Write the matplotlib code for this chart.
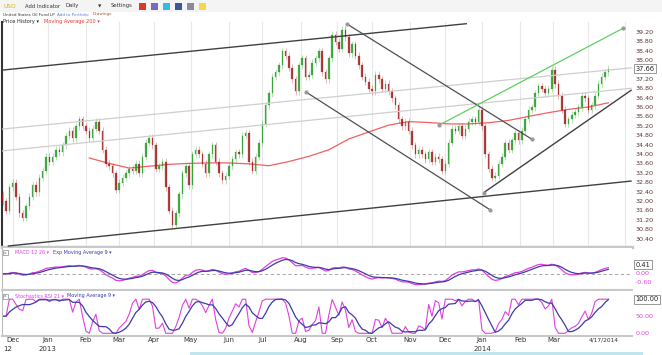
import matplotlib
matplotlib.use("Agg")
import matplotlib.pyplot as plt
import numpy as np
import pandas as pd
from matplotlib.patches import Rectangle
from matplotlib.transforms import blended_transform_factory

# USO closes, one value every second business day, 2012-11-21 .. 2014-04-17
closes = [
    32.3, 32.0, 31.6, 32.6, 32.8, 32.2, 31.5, 31.3, 31.8, 32.2,
    32.7, 32.4, 33.0, 33.3, 33.9, 33.7, 33.9, 34.2, 34.1, 34.4,
    34.8, 35.0, 34.7, 35.2, 35.5, 35.2, 35.0, 34.7, 35.1, 35.4,
    35.0, 34.2, 33.6, 33.5, 33.2, 32.5, 32.8, 33.0, 33.2, 33.4,
    33.3, 33.6, 33.2, 33.9, 34.5, 34.7, 34.4, 33.4, 33.5, 33.7,
    32.6, 31.6, 31.0, 31.5, 32.3, 33.2, 33.5, 32.7, 34.0, 34.2,
    34.0, 33.6, 33.2, 34.0, 34.4, 33.7, 33.2, 32.9, 33.1, 33.5,
    33.8, 34.1, 34.0, 34.8, 34.9, 33.7, 33.3, 33.9, 34.5, 35.3,
    36.1, 36.6, 37.3, 37.5, 37.8, 38.4, 38.2, 37.7, 37.2, 36.7,
    37.8, 38.1, 37.3, 37.4, 37.9, 38.1, 38.4, 37.5, 37.2, 38.1,
    39.1, 38.8, 38.5, 39.3, 39.0, 38.3, 38.7, 38.2, 37.8, 37.3,
    37.1, 36.8, 36.7, 37.4, 37.2, 36.8, 37.0, 36.7, 36.4, 36.1,
    35.5, 35.2, 35.4, 35.0, 34.4, 34.0, 34.2, 34.0, 33.8, 34.1,
    33.7, 33.9, 33.8, 33.3, 33.6, 34.5, 35.1, 35.0, 35.2, 34.8,
    35.1, 35.4, 35.5, 35.4, 35.9, 35.2, 34.0, 33.4, 33.0, 33.1,
    33.6, 33.9, 34.5, 34.2, 34.6, 34.9, 34.6, 35.0, 35.5, 35.9,
    36.0, 36.6, 36.9, 36.8, 36.6, 36.8, 37.6, 37.0, 36.5, 35.9,
    35.3, 35.5, 35.7, 35.8, 36.0, 36.5, 36.4, 35.9, 36.1, 36.5,
    37.0, 37.3, 37.5, 37.66,
]

# 200-day moving average, read every sixth bar from bar 27 on
ma200 = [
    33.85, 33.62, 33.42, 33.50, 33.58, 33.62, 33.64, 33.64, 33.60, 33.52,
    33.70, 33.92, 34.20, 34.66, 34.96, 35.25, 35.40, 35.36, 35.30, 35.30,
    35.35, 35.45, 35.62, 35.78, 35.92, 36.02, 36.20,
]
macd_last = 0.41

# drawn trend lines: (start date, price), (end date, price)
channel_top = [("2012-11-21", 37.58), ("2013-12-19", 39.57)]
channel_bottom = [("2012-11-28", 30.10), ("2014-05-07", 32.87)]
mid_upper = [("2012-11-21", 35.07), ("2014-05-07", 37.69)]
mid_lower = [("2012-11-21", 34.14), ("2014-05-07", 36.82)]
down_top = [("2013-09-10", 39.55), ("2014-02-12", 34.65)]
down_bottom = [("2013-08-06", 36.67), ("2014-01-08", 31.64)]
green_line = [("2013-11-26", 35.24), ("2014-04-30", 39.38)]
support = [("2014-01-02", 32.37), ("2014-05-07", 36.75)]

month_names = ["Dec", "Jan", "Feb", "Mar", "Apr", "May", "Jun", "Jul", "Aug",
               "Sep", "Oct", "Nov", "Dec", "Jan", "Feb", "Mar"]
price_ticks = [30.40 + 0.40 * k for k in range(23)]

UP = "#2a9d2a"
DOWN = "#a32222"
MAG = "#e040e0"
BLUE = "#3c3ca8"
AXTXT = "#5a3535"

calendar = pd.bdate_range("2012-11-21", "2014-05-09")
bar_days = pd.bdate_range("2012-11-21", "2014-04-17")[::2]
bar_x = calendar.get_indexer(bar_days)


def pos(day):
    return calendar.get_indexer([pd.Timestamp(day)])[0]


fig = plt.figure(figsize=(6.62, 3.55), dpi=100)
W, H = 662, 355


def box(x0, y0, x1, y1):
    return [x0 / W, 1 - y1 / H, (x1 - x0) / W, (y1 - y0) / H]


ax_p = fig.add_axes(box(2, 22, 632, 247))
ax_m = fig.add_axes(box(2, 248, 632, 290))
ax_s = fig.add_axes(box(2, 291, 632, 336))
xlim = (1.56, 380.2)

for ax in (ax_p, ax_m, ax_s):
    ax.set_xlim(*xlim)
    ax.set_xticks([])
    ax.set_yticks([])
    for side in ("top", "right"):
        ax.spines[side].set_visible(False)
    ax.spines["left"].set_color("#bbbbbb")
    ax.spines["bottom"].set_color("#c8c8c8")
    ax.spines["bottom"].set_linewidth(1.5)
ax_p.spines["left"].set_color("#333333")
ax_p.spines["left"].set_linewidth(1.5)
ax_p.spines["bottom"].set_linewidth(2.5)

# month gridlines
month_starts = pd.DatetimeIndex(sorted({pd.Timestamp(d.year, d.month, 1) for d in calendar}))
month_pos = [calendar.searchsorted(m) for m in month_starts][1:]
for mx in month_pos:
    ax_p.axvline(mx, color="#e8e8e8", lw=0.8, zorder=0)

# price panel
ax_p.set_ylim(30.06, 39.64)
c = np.array(closes)
opens = np.r_[c[0], c[:-1]]
for x, o, cl in zip(bar_x, opens, c):
    col = UP if cl >= o else DOWN
    lo, hi = min(o, cl), max(o, cl)
    ax_p.vlines(x, lo - 0.15, hi + 0.15, color=col, lw=0.5, alpha=0.45, zorder=3)
    ax_p.add_patch(Rectangle((x - 0.45, lo), 0.9, max(hi - lo, 0.03),
                             facecolor=col, edgecolor=col, lw=0.2, alpha=0.85,
                             zorder=4))

ma_x = bar_x[27::6][:len(ma200)]
ax_p.plot(ma_x, ma200, color="#f06060", lw=0.9, zorder=2)

for line, col, lw in [(channel_top, "#404040", 1.0), (channel_bottom, "#404040", 1.0),
                      (mid_upper, "#cfcfcf", 0.9), (mid_lower, "#cfcfcf", 0.9),
                      (down_top, "#505050", 0.9), (down_bottom, "#505050", 0.9),
                      (green_line, "#5fd05f", 0.9), (support, "#404040", 1.0)]:
    xs = [pos(d) for d, _ in line]
    ys = [p for _, p in line]
    ax_p.plot(xs, ys, color=col, lw=lw, zorder=5, solid_capstyle="butt")
for line in (down_top, down_bottom, green_line):
    xs = [pos(d) for d, _ in line]
    ys = [p for _, p in line]
    ax_p.plot(xs, ys, "o", ms=2, color="#999999", zorder=6)
ax_p.plot(pos(support[0][0]), support[0][1], "o", ms=2, color="#999999", zorder=6)

tr = blended_transform_factory(ax_p.transAxes, ax_p.transData)
for t in price_ticks:
    if abs(t - closes[-1]) < 0.2:
        continue  # hidden under the last-price box
    ax_p.text(1.006, t, f"{t:.2f}", transform=tr, fontsize=4.6, color=AXTXT,
              va="center", ha="left")
ax_p.text(1.006, closes[-1], f"{closes[-1]:.2f}", transform=tr, fontsize=4.8,
          color="#222222", va="center", ha="left", zorder=10,
          bbox=dict(boxstyle="square,pad=0.2", fc="white", ec="#888888", lw=0.6))

# MACD 12 26 with 9-period signal (bars are two days apart)
s = pd.Series(closes)
macd = s.ewm(span=6).mean() - s.ewm(span=13).mean()
signal = macd.ewm(span=4.5).mean()
ax_m.set_ylim(-1.15, 1.78)
ax_m.axhline(0, color="#999999", lw=0.6, ls=(0, (4, 3)))
ax_m.plot(bar_x, macd, color=MAG, lw=0.9)
ax_m.plot(bar_x, signal, color=BLUE, lw=0.9)
trm = blended_transform_factory(ax_m.transAxes, ax_m.transData)
for t in (0.0, -0.6):
    ax_m.text(1.006, t, f"{t:.2f}", transform=trm, fontsize=4.6, color=MAG,
              va="center", ha="left")
ax_m.text(1.006, macd_last, f"{macd_last:.2f}", transform=trm,
          fontsize=4.8, color="#222222", va="bottom", ha="left", zorder=10,
          bbox=dict(boxstyle="square,pad=0.2", fc="white", ec="#888888", lw=0.6))

# Stochastic RSI 21 with 9-period average
delta = s.diff()
gain = delta.clip(lower=0).ewm(alpha=1 / 10, adjust=False).mean()
loss = (-delta.clip(upper=0)).ewm(alpha=1 / 10, adjust=False).mean()
rsi = 100 - 100 / (1 + gain / loss.replace(0, np.nan))
rsi = rsi.bfill()
lo_r = rsi.rolling(10, min_periods=2).min()
hi_r = rsi.rolling(10, min_periods=2).max()
stoch = ((rsi - lo_r) / (hi_r - lo_r) * 100).fillna(50)
stoch_ma = stoch.rolling(5, min_periods=1).mean()
ax_s.set_ylim(-8, 124)
ax_s.plot(bar_x, stoch, color=MAG, lw=0.8)
ax_s.plot(bar_x, stoch_ma, color=BLUE, lw=0.9)
trs = blended_transform_factory(ax_s.transAxes, ax_s.transData)
for t in (50, 0):
    ax_s.text(1.006, t, f"{t:.2f}", transform=trs, fontsize=4.6, color=MAG,
              va="center", ha="left")
ax_s.text(1.006, 100, "100.00", transform=trs, fontsize=4.8, color="#222222",
          va="center", ha="left",
          bbox=dict(boxstyle="square,pad=0.2", fc="white", ec="#888888", lw=0.6))

# x labels under the stochastic panel
trx = blended_transform_factory(ax_s.transData, fig.transFigure)
for name, mx in zip(month_names, month_pos):
    ax_s.text(mx, 1 - 340 / H, name, transform=trx, fontsize=5, color="#333333",
              ha="center", va="center")
fig.text(3 / W, 1 - 349 / H, "12", fontsize=5, color="#333333",
         ha="left", va="center")
for yr, mx in (("2013", month_pos[1]), ("2014", month_pos[13])):
    ax_s.text(mx, 1 - 349 / H, yr, transform=trx, fontsize=5, color="#333333",
              ha="center", va="center")
ax_s.text(bar_x[-1] - 3, 1 - 340 / H, "4/17/2014", transform=trx, fontsize=4.2,
          color="#333333", ha="center", va="center")


# header rows
def ftxt(x, y, txt, color, size=3.4):
    fig.text(x / W, 1 - y / H, txt, fontsize=size, color=color, va="center",
             ha="left")


fig.add_artist(Rectangle((0, 1 - 12 / H), 1, 12 / H, transform=fig.transFigure,
                         facecolor="#f4f4f4", edgecolor="none", zorder=-1))
ftxt(3, 6, "USO", "#d9b400", 4.2)
ftxt(25, 6, "Add Indicator", "#333333", 3.8)
ftxt(65, 6, "Daily", "#333333", 3.8)
ftxt(98, 6, "\u25bc", "#333333", 3.2)
ftxt(111, 6, "Settings", "#333333", 3.8)
for ix, col in zip(range(6), ["#d83a2a", "#7a68c0", "#36b8e0", "#3b5998", "#8a8a9a", "#f2d84a"]):
    fig.add_artist(Rectangle(((139 + 12 * ix) / W, 1 - 10 / H), 7 / W, 7 / H,
                             transform=fig.transFigure, facecolor=col,
                             edgecolor="none"))
ftxt(3, 14.5, "United States Oil Fund LP", "#333333", 3.0)
ftxt(57, 14.5, "Add to Portfolio", "#5a7fd0", 3.0)
ftxt(93, 14.5, "Drawings", "#b05030", 3.0)
ftxt(3, 21, "Price History \u25be", "#222222", 3.6)
ftxt(44, 21, "Moving Average 200 \u25be", "#ee3333", 3.6)

for yy, first, second, x2 in ((252.5, "MACD 12 26 \u25be", "Exp Moving Average 9 \u25be", 53),
                              (296, "Stochastics RSI 21 \u25be", "Moving Average 9 \u25be", 67)):
    fig.add_artist(Rectangle((3 / W, 1 - (yy + 2.5) / H), 5 / W, 5 / H,
                             transform=fig.transFigure, facecolor="white",
                             edgecolor="#888888", lw=0.5))
    ftxt(3.6, yy, "x", "#555555", 3.0)
    ftxt(15, yy, first, MAG, 3.5)
    ftxt(x2, yy, second, BLUE, 3.5)

fig.add_artist(Rectangle((190 / W, 0), 453 / W, 3 / H, transform=fig.transFigure,
                         facecolor="#bfe6ee", edgecolor="none"))

fig.savefig("out.png", dpi=100)
